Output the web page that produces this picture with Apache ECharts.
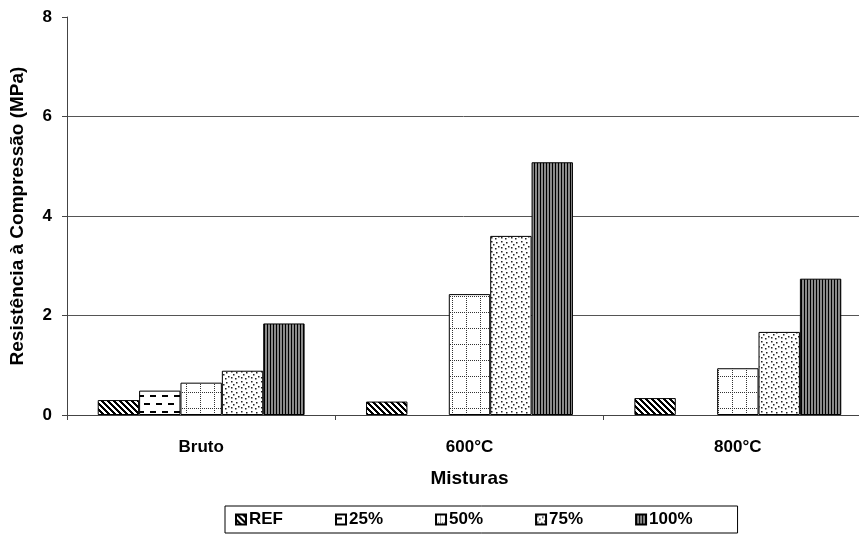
<!DOCTYPE html>
<html>
<head>
<meta charset="utf-8">
<script src="https://cdn.jsdelivr.net/npm/echarts@6/dist/echarts.min.js"></script>
<style>
  html, body { margin: 0; padding: 0; background: #fff; }
  #chart { width: 859px; height: 537px; }
</style>
</head>
<body>
<div id="chart"></div>
<script>
// Compressive strength per mixture, grouped by treatment
const categories = ['Bruto', '600°C', '800°C'];
const seriesNames = ['REF', '25%', '50%', '75%', '100%'];
const valuesREF = [0.30, 0.27, 0.34];
const values25 = [0.49, null, null];
const values50 = [0.65, 2.43, 0.94];
const values75 = [0.89, 3.60, 1.67];
const values100 = [1.84, 5.08, 2.74];
const yTicks = [0, 2, 4, 6, 8];

const FONT = 'Liberation Sans, Arial, sans-serif';
const FS = 17;
const FS_NAME = 19;

function makeCanvas(w, h, draw) {
  const c = document.createElement('canvas');
  c.width = w; c.height = h;
  const ctx = c.getContext('2d');
  ctx.fillStyle = '#fff';
  ctx.fillRect(0, 0, w, h);
  draw(ctx);
  return c;
}

// Diagonal hatching
const hatchDiag = makeCanvas(6, 6, ctx => {
  ctx.fillStyle = '#000';
  for (let y = 0; y < 6; y++) {
    for (let x = 0; x < 6; x++) {
      const d = ((x - y) % 6 + 6) % 6;
      if (d < 3) ctx.fillRect(x, y, 1, 1);
    }
  }
});

// Staggered horizontal dashes
const hatchDash = makeCanvas(12, 16, ctx => {
  ctx.fillStyle = '#000';
  ctx.fillRect(0, 3, 6, 2);
  ctx.fillRect(6, 11, 6, 2);
});

// Dotted grid
const hatchGrid = makeCanvas(14, 16, ctx => {
  ctx.fillStyle = '#333';
  for (let y = 0; y < 16; y += 2) ctx.fillRect(4, y, 1, 1);
  for (let x = 0; x < 14; x += 2) ctx.fillRect(x, 8, 1, 1);
});

// Scattered dots
const hatchDots = makeCanvas(10, 10, ctx => {
  ctx.fillStyle = '#222';
  const pts = [[1,1],[6,2],[3,4],[8,6],[1,7],[5,8]];
  pts.forEach(p => ctx.fillRect(p[0], p[1], 1.5, 1.5));
});

// Vertical stripes
const hatchVert = makeCanvas(3, 2, ctx => {
  ctx.fillStyle = '#000';
  ctx.fillRect(0, 0, 1, 2);
  ctx.fillStyle = '#8a8a8a';
  ctx.fillRect(1, 0, 2, 2);
});

const patterns = [hatchDiag, hatchDash, hatchGrid, hatchDots, hatchVert];
const dataSets = [valuesREF, values25, values50, values75, values100];

const chart = echarts.init(document.getElementById('chart'), null, { renderer: 'canvas' });

chart.setOption({
  animation: false,
  backgroundColor: '#fff',
  textStyle: { fontFamily: FONT },
  // plot area runs a little past the right edge of the canvas
  grid: { left: 67, top: 17, width: 805, height: 398, containLabel: false, outerBoundsMode: 'none' },
  legend: {
    left: 225,
    bottom: 4,
    padding: [5, 45, 5, 10],
    borderColor: '#000',
    borderWidth: 1,
    itemWidth: 10,
    itemHeight: 10,
    itemGap: 52,
    icon: 'rect',
    textStyle: { fontFamily: FONT, fontSize: FS, fontWeight: 'bold', color: '#000', padding: [0, 0, 0, -2] },
    data: seriesNames
  },
  xAxis: {
    type: 'category',
    data: categories,
    name: 'Misturas',
    nameLocation: 'middle',
    nameGap: 54,
    nameTextStyle: { fontFamily: FONT, fontSize: FS_NAME, fontWeight: 'bold', color: '#000' },
    axisLine: { lineStyle: { color: '#444', width: 1 } },
    axisTick: { show: true, length: 5, lineStyle: { color: '#444' } },
    axisLabel: { margin: 24, fontFamily: FONT, fontSize: FS, fontWeight: 'bold', color: '#000' }
  },
  yAxis: {
    type: 'value',
    min: yTicks[0],
    max: yTicks[yTicks.length - 1],
    interval: 2,
    name: 'Resistência à Compressão (MPa)',
    nameLocation: 'middle',
    nameGap: 40,
    nameTextStyle: { fontFamily: FONT, fontSize: FS_NAME, fontWeight: 'bold', color: '#000' },
    axisLine: { show: true, lineStyle: { color: '#444', width: 1 } },
    axisTick: { show: true, length: 5, lineStyle: { color: '#444' } },
    axisLabel: { margin: 15, fontFamily: FONT, fontSize: FS, fontWeight: 'bold', color: '#000' },
    splitLine: { show: true, showMaxLine: false, lineStyle: { color: '#555', width: 1 } }
  },
  series: seriesNames.map((name, i) => ({
    name: name,
    type: 'bar',
    data: dataSets[i],
    barGap: '0%',
    barCategoryGap: '22.9%',
    itemStyle: {
      color: { image: patterns[i], repeat: 'repeat' },
      borderColor: '#000',
      borderWidth: 1
    }
  }))
});
</script>
</body>
</html>
